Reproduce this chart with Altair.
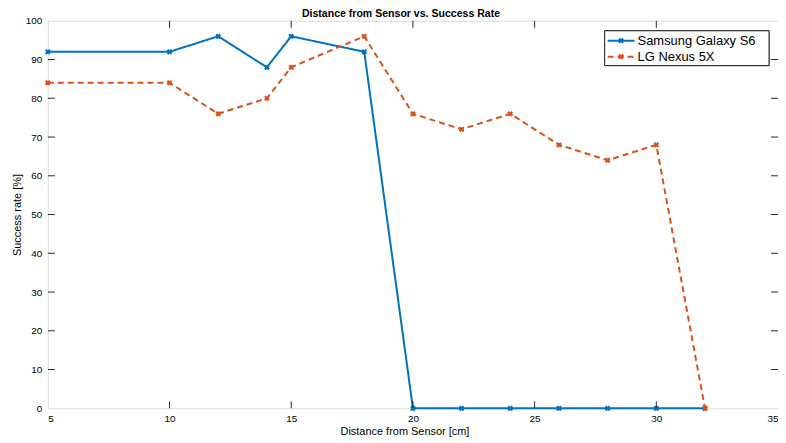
import altair as alt
import pandas as pd

distance = [5, 10, 12, 14, 15, 18, 20, 22, 24, 26, 28, 30, 32]
samsung = [92, 92, 96, 88, 96, 92, 0, 0, 0, 0, 0, 0, 0]
lg = [84, 84, 76, 80, 88, 96, 76, 72, 76, 68, 64, 68, 0]
series_names = ["Samsung Galaxy S6", "LG Nexus 5X"]
x_ticks = [5, 10, 15, 20, 25, 30, 35]
y_ticks = [0, 10, 20, 30, 40, 50, 60, 70, 80, 90, 100]
chart_title = "Distance from Sensor vs. Success Rate"

rows = []
for d, s, l in zip(distance, samsung, lg):
    rows.append({"d": d, "v": s, "series": series_names[0]})
    rows.append({"d": d, "v": l, "series": series_names[1]})
df = pd.DataFrame(rows)

W, H = 733, 389
FONT = "Liberation Sans"
AX = "#262626"
COLORS = ["#0072BD", "#D95319"]
DASHES = [[1, 0], [6, 4]]
X_TITLE = "Distance from Sensor [cm]"
Y_TITLE = "Success rate [%]"

xs = alt.Scale(domain=[5, 35], nice=False, zero=False)
ys = alt.Scale(domain=[0, 100], nice=False)
col = alt.Scale(domain=series_names, range=COLORS)
dash = alt.Scale(domain=series_names, range=DASHES)

x_axis = alt.Axis(values=x_ticks, tickSize=0, domain=False, grid=False,
                  labelPadding=5, titlePadding=2.5, format="d", titleX=358,
                  labelOverlap=False, titleFontWeight="normal")
y_axis = alt.Axis(values=y_ticks, tickSize=0, domain=False, grid=False,
                  labelPadding=6, titlePadding=3, format="d",
                  labelOverlap=False, titleFontWeight="normal")


def X(field):
    return alt.X(field, scale=xs, title=X_TITLE, axis=x_axis)


def Y(field):
    return alt.Y(field, scale=ys, title=Y_TITLE, axis=y_axis)


base = alt.Chart(df)

lines = base.mark_line(strokeWidth=2).encode(
    x=X("d:Q"), y=Y("v:Q"),
    color=alt.Color("series:N", scale=col, sort=series_names, legend=None),
    strokeDash=alt.StrokeDash("series:N", scale=dash, sort=series_names, legend=None),
)

points = base.mark_point(shape="cross", angle=45, filled=True, size=34, opacity=1).encode(
    x=X("d:Q"), y=Y("v:Q"),
    color=alt.Color("series:N", scale=col, sort=series_names, legend=None),
)

xt = pd.DataFrame({"t": x_ticks[1:-1]})
yt = pd.DataFrame({"t": y_ticks[1:-1]})
tick_bottom = alt.Chart(xt).mark_rule(color=AX, strokeWidth=1).encode(
    x=X("t:Q"), y=alt.value(H), y2=alt.value(H - 7))
tick_top = alt.Chart(xt).mark_rule(color=AX, strokeWidth=1).encode(
    x=X("t:Q"), y=alt.value(0), y2=alt.value(7))
tick_left = alt.Chart(yt).mark_rule(color=AX, strokeWidth=1).encode(
    y=Y("t:Q"), x=alt.value(0), x2=alt.value(7))
tick_right = alt.Chart(yt).mark_rule(color=AX, strokeWidth=1).encode(
    y=Y("t:Q"), x=alt.value(W), x2=alt.value(W - 7))

title_mark = alt.Chart(pd.DataFrame({"t": [chart_title]})).mark_text(
    font=FONT, fontSize=10.6, fontWeight="bold", color="#000000",
    align="center", baseline="alphabetic").encode(
    x=alt.value(354.5), y=alt.value(-3.5), text="t:N")

# legend (drawn manually, MATLAB style)
LX0, LX1, LY0, LY1 = 559, 724, 10, 45
leg_df = pd.DataFrame({"series": series_names})
legend_box = alt.Chart(leg_df).mark_rect(fill="#ffffff", stroke=AX, strokeWidth=1).encode(
    x=alt.value(LX0), x2=alt.value(LX1), y=alt.value(LY0), y2=alt.value(LY1))
legend_parts = [legend_box]
row_y = [20, 36]
for i, name in enumerate(series_names):
    one = alt.Chart(pd.DataFrame({"series": [name]}))
    legend_parts.append(one.mark_rule(color=COLORS[i], strokeWidth=2, strokeDash=DASHES[i]).encode(
        x=alt.value(562), x2=alt.value(589), y=alt.value(row_y[i])))
    legend_parts.append(one.mark_point(shape="cross", angle=45, filled=True, size=34,
                                       color=COLORS[i], opacity=1).encode(
        x=alt.value(575.5), y=alt.value(row_y[i])))
    legend_parts.append(one.mark_text(align="left", baseline="middle", font=FONT, fontSize=13,
                                      color="#000000").encode(
        x=alt.value(592), y=alt.value(row_y[i] + 0.5), text="series:N"))

chart = alt.layer(lines, points, tick_bottom, tick_top, tick_left, tick_right,
                  title_mark, *legend_parts).properties(
    width=W, height=H,
    autosize=alt.AutoSizeParams(type="none"),
    padding={"left": 40, "top": 12, "right": 0, "bottom": 31},
).configure_view(stroke=AX, strokeWidth=1.2).configure_axis(
    labelFont=FONT, labelFontSize=9, labelColor="#4d4d4d",
    titleFont=FONT, titleFontSize=10.2, titleColor="#262626", titleFontWeight="normal",
).configure(background="#ffffff")

chart.save("out.html", embed_options={"renderer": "svg", "actions": False})
